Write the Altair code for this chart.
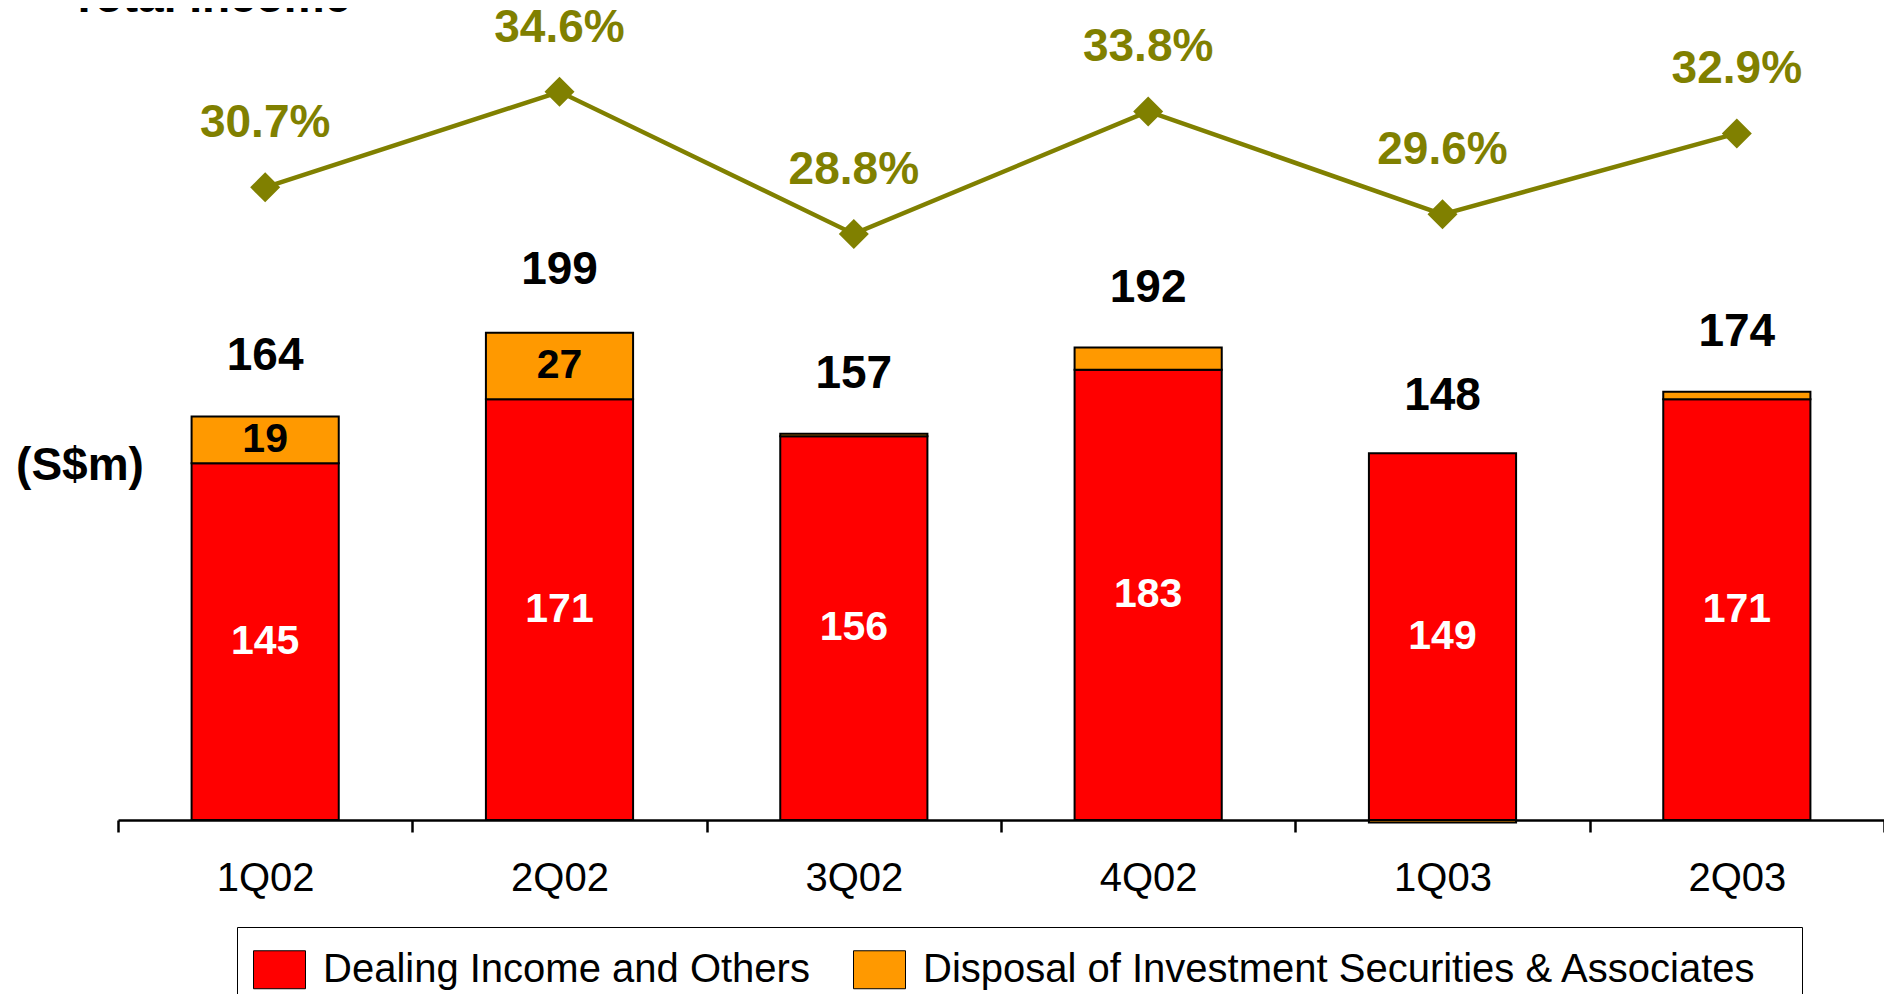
import altair as alt
import pandas as pd

quarters = ["1Q02", "2Q02", "3Q02", "4Q02", "1Q03", "2Q03"]
dealing = [145, 171, 156, 183, 149, 171]
disposal = [19, 27, 1, 9, -1, 3]
totals = [164, 199, 157, 192, 148, 174]
ratio = [30.7, 34.6, 28.8, 33.8, 29.6, 32.9]
disposal_labels = ["19", "27", "", "", "", ""]
series_names = ["Dealing Income and Others", "Disposal of Investment Securities & Associates"]
colors = ["#FF0000", "#FF9900"]

FONT = "Liberation Sans"
OLIVE = "#808000"

rows = []
for i, q in enumerate(quarters):
    rows.append({"quarter": q, "series": series_names[0], "value": dealing[i], "order": 0})
    rows.append({"quarter": q, "series": series_names[1], "value": disposal[i], "order": 1})
bars_df = pd.DataFrame(rows)

summary_df = pd.DataFrame({
    "quarter": quarters,
    "dealing": dealing,
    "dealing_mid": [d / 2 for d in dealing],
    "disp_mid": [d + p / 2 for d, p in zip(dealing, disposal)],
    "disp_label": disposal_labels,
    "total": totals,
    "ratio": ratio,
    "ratio_label": [f"{r:.1f}%" for r in ratio],
})

x_enc = alt.X(
    "quarter:N",
    sort=quarters,
    scale=alt.Scale(paddingInner=0, paddingOuter=0),
    axis=alt.Axis(title=None, tickBand="extent", labelAngle=0, grid=False,
                  domainColor="black", domainWidth=2.5, tickColor="black",
                  tickWidth=2.5, tickSize=12, labelFontSize=40, labelFont=FONT,
                  labelColor="black", labelPadding=26),
)
bar_scale = alt.Scale(domain=[0, 330], nice=False, zero=False)
pct_scale = alt.Scale(domain=[4.88, 38.02], nice=False, zero=False)

bars = alt.Chart(bars_df).mark_bar(
    width=alt.RelativeBandSize(0.5), stroke="black", strokeWidth=2
).encode(
    x=x_enc,
    y=alt.Y("value:Q", stack="zero", scale=bar_scale, axis=None),
    color=alt.Color(
        "series:N",
        sort=series_names,
        scale=alt.Scale(domain=series_names, range=colors),
        legend=alt.Legend(
            title=None, orient="none", legendX=119, legendY=919,
            direction="horizontal",
            symbolType="M-1,-0.73H1V0.73H-1Z", symbolSize=2704,
            symbolStrokeColor="black", symbolStrokeWidth=1, symbolOpacity=1,
            labelFontSize=40, labelFont=FONT, labelColor="black",
            labelLimit=2000, labelOffset=17, columnPadding=41,
            labelExpr="indexof(datum.label, 'Disposal') == 0 ? datum.label + '\u2800' : datum.label",
            padding=16, strokeColor="black", fillColor="white",
        ),
    ),
    order=alt.Order("order:Q"),
)

base = alt.Chart(summary_df)

dealing_text = base.mark_text(
    font=FONT, fontSize=41, fontWeight="bold", color="white", baseline="middle"
).encode(x=x_enc, y=alt.Y("dealing_mid:Q", scale=bar_scale, axis=None), text="dealing:Q")

disp_text = base.mark_text(
    font=FONT, fontSize=41, fontWeight="bold", color="black", baseline="middle"
).encode(x=x_enc, y=alt.Y("disp_mid:Q", scale=bar_scale, axis=None), text="disp_label:N")

total_text = base.mark_text(
    font=FONT, fontSize=46, fontWeight="bold", color="black", baseline="middle", dy=-60
).encode(x=x_enc, y=alt.Y("total:Q", scale=bar_scale, axis=None), text="total:Q")

line = base.mark_line(color=OLIVE, strokeWidth=4.5).encode(
    x=x_enc, y=alt.Y("ratio:Q", scale=pct_scale, axis=None)
)
points = base.mark_point(shape="diamond", filled=True, size=900, color=OLIVE, opacity=1).encode(
    x=x_enc, y=alt.Y("ratio:Q", scale=pct_scale, axis=None)
)
pct_text = base.mark_text(
    font=FONT, fontSize=46, fontWeight="bold", color=OLIVE, baseline="middle", dy=-64
).encode(x=x_enc, y=alt.Y("ratio:Q", scale=pct_scale, axis=None), text="ratio_label:N")

unit_text = alt.Chart(pd.DataFrame({"t": ["(S$m)"]})).mark_text(
    font=FONT, fontSize=46, fontWeight="bold", color="black", baseline="middle", align="center"
).encode(x=alt.value(-38), y=alt.value(458), text="t:N")

title_text = alt.Chart(pd.DataFrame({"t": ["Total Income"]})).mark_text(
    font=FONT, fontSize=46, fontWeight="bold", color="black", baseline="alphabetic", align="left"
).encode(x=alt.value(-48), y=alt.value(4), text="t:N")

chart = alt.layer(
    bars, dealing_text, disp_text, total_text, line, points, pct_text, unit_text, title_text
).resolve_scale(y="independent").properties(
    width=1766, height=812,
    autosize=alt.AutoSizeParams(type="none"),
    padding={"left": 110, "top": 0, "right": 0, "bottom": 174},
).configure_view(stroke=None)

chart.save("out.html", embed_options={"renderer": "svg", "actions": False})
